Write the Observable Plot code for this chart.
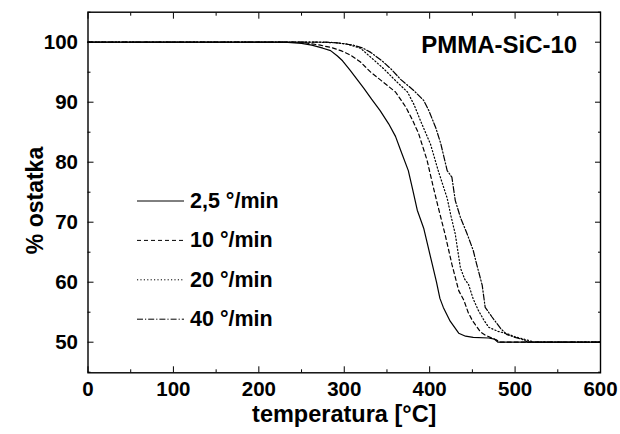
<!DOCTYPE html>
<html><head><meta charset="utf-8">
<script src="https://cdn.jsdelivr.net/npm/d3@7"></script>
<script src="https://cdn.jsdelivr.net/npm/@observablehq/plot@0.6"></script>
<style>
body{margin:0;background:#fff}
#chart{width:620px;height:434px;position:relative}
svg{font-family:"Liberation Sans",Arial,sans-serif}
</style>
</head><body><div id="chart"></div>
<script>
// Series labels
const rates = ["2,5 °/min", "10 °/min", "20 °/min", "40 °/min"];
const dashes = ["none", "4,3", "1.2,2.2", "6,2,1.2,2"];

// 2,5 °/min
const temp25 = [0,230,250,262,275,284,292,298,307,315,323,332,342,352,360,366,375,380,385.5,393,398,403,408,412,416,424,434,442,451,469,476,480,600];
const mass25 = [100,100,99.8,99.5,99.0,98.6,97.7,96.9,95.3,93.8,92.3,90.5,88.6,86.4,84.3,82,78.6,75.5,72,69,66,63,60,57.3,55.8,53.5,51.5,51.0,50.8,50.7,50.5,50.0,50];
// 10 °/min
const temp10 = [0,250,272,285,296,308,319,331,346,360,372,380,387,397,404,410,418,426,434,440,445,450,459.5,465,471,478,482,600];
const mass10 = [100,100,99.5,99.1,98.6,97.8,96.7,95,93.3,91.7,89.2,87,84.8,80.3,76,72.5,68,63,58.6,57,55,53.6,51.7,51.2,50.8,50.4,50,50];
// 20 °/min
const temp20 = [0,270,290,303,319,331,346,360,374,382,389,401,410,420.5,425,430,436,441,445.6,451,457,463,469,480,491,500,508,518,522,600];
const mass20 = [100,100,99.9,99.7,99,97.5,95.6,93.6,91.7,89.5,87,83,78.6,74,71,68,62.4,60.5,59.6,57.2,55.3,53.8,52.5,51.8,51.4,50.9,50.6,50.2,50,50];
// 40 °/min
const temp40 = [0,280,292,311,322,331,345,355,366,381,393,399,407,413,420.5,426,430,436,444,451,455,461.5,465,473,483,490,500,510,515,600];
const mass40 = [100,100,99.9,99.5,99,98.3,96.8,95.5,93.8,92,90.3,88.6,85.8,83.1,78.6,77.5,73.6,70.8,68,65.3,63,59.5,55.8,54.2,52.3,51.3,50.8,50.4,50,50];

// Axis ticks
const xMajor = [0,100,200,300,400,500,600];
const xMinor = [50,150,250,350,450,550];
const yMajor = [50,60,70,80,90,100];
const yMinor = [45,55,65,75,85,95,105];

const xTitle = "temperatura [°C]";
const yTitle = "% ostatka";
const chartTitle = "PMMA-SiC-10";

const temps = [temp25, temp10, temp20, temp40];
const masses = [mass25, mass10, mass20, mass40];
const series = rates.map((r, i) => temps[i].map((t, j) => ({rate: r, t, m: masses[i][j]})));

const blank = () => "";
const lineMarks = series.map((s, i) => Plot.line(s, {x: "t", y: "m", stroke: "black", strokeWidth: 1.2, strokeDasharray: dashes[i] === "none" ? undefined : dashes[i]}));

const plot = Plot.plot({
  width: 620,
  height: 434,
  marginLeft: 87.5,
  marginRight: 20,
  marginTop: 11.7,
  marginBottom: 61.7,
  style: {fontFamily: "Liberation Sans, Arial, sans-serif", color: "black", background: "white", overflow: "visible"},
  x: {domain: [0, 600], label: null},
  y: {domain: [44.9, 105], label: null},
  marks: [
    ...lineMarks,
    Plot.axisX({ticks: xMajor, tickSize: 0, tickPadding: 9, fontSize: 20.5, fontWeight: "bold", label: null}),
    Plot.axisX({ticks: xMajor, tickSize: -6, tickFormat: blank, label: null}),
    Plot.axisX({ticks: xMinor, tickSize: -3, tickFormat: blank, label: null}),
    Plot.axisX({anchor: "top", ticks: xMajor, tickSize: -6, tickFormat: blank, label: null}),
    Plot.axisX({anchor: "top", ticks: xMinor, tickSize: -3, tickFormat: blank, label: null}),
    Plot.axisY({ticks: yMajor, tickSize: 0, tickPadding: 10, fontSize: 20.5, fontWeight: "bold", label: null}),
    Plot.axisY({ticks: yMajor, tickSize: -6, tickFormat: blank, label: null}),
    Plot.axisY({ticks: yMinor, tickSize: -3, tickFormat: blank, label: null}),
    Plot.axisY({anchor: "right", ticks: yMajor, tickSize: -6, tickFormat: blank, label: null}),
    Plot.axisY({anchor: "right", ticks: yMinor, tickSize: -3, tickFormat: blank, label: null}),
    Plot.frame({stroke: "black", strokeWidth: 1.4}),
    Plot.text([xTitle], {text: d => d, frameAnchor: "bottom", lineAnchor: "middle", textAnchor: "middle", dy: 41.7, fontSize: 23.5, fontWeight: "bold"}),
    Plot.text([yTitle], {text: d => d, frameAnchor: "left", lineAnchor: "middle", textAnchor: "middle", dx: -52.5, dy: 8, rotate: -90, fontSize: 23, fontWeight: "bold"}),
    Plot.text([chartTitle], {text: d => d, frameAnchor: "top-right", lineAnchor: "middle", textAnchor: "end", dx: -23.3, dy: 33.3, fontSize: 24, fontWeight: "bold"})
  ]
});

// Legend
const svg = d3.select(plot);
const lg = svg.append("g").attr("text-anchor", "start");
rates.forEach((r, i) => {
  const ly = 201 + i * 39.4;
  lg.append("line").attr("x1", 137).attr("x2", 184).attr("y1", ly).attr("y2", ly)
    .attr("stroke", "black").attr("stroke-width", 1).attr("stroke-dasharray", dashes[i] === "none" ? null : dashes[i]);
  lg.append("text").attr("x", 190).attr("y", ly + 6.8).attr("font-size", 21.5).attr("font-weight", "bold")
    .attr("fill", "black").attr("text-anchor", "start").text(r);
});

document.getElementById("chart").appendChild(plot);
</script>
</body></html>
